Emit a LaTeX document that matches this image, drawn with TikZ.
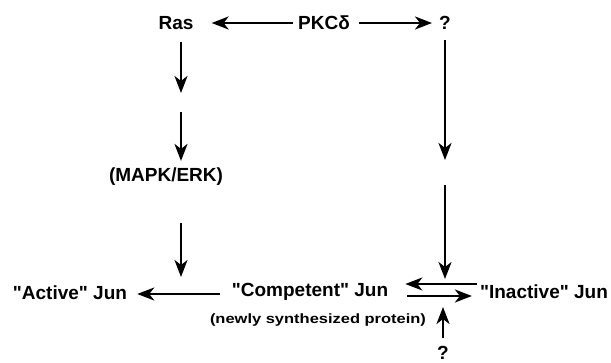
\documentclass[tikz,border=0pt]{standalone}
\usepackage{fontspec}
\setmainfont{Liberation Sans}
\newfontfamily\widefont[FakeStretch=1.22]{Liberation Sans}
\usetikzlibrary{arrows.meta}
\begin{document}
\begin{tikzpicture}[x=1pt,y=-1pt,
  lbl/.style={font=\fontsize{19}{22}\selectfont\bfseries, inner sep=0pt, anchor=center},
  arr/.style={line width=2.3pt, -{Stealth[length=17pt,width=13pt,inset=5pt]}}]
\useasboundingbox (0,0) rectangle (611,363);
% nodes
\node[lbl] (ras) at (176,23) {Ras};
\node[lbl] (pkc) at (324,23) {PKCδ};
\node[lbl] (q1) at (445,23) {?};
\node[lbl] (mapk) at (166,177) {(MAPK/ERK)};
\node[lbl] (act) at (70,293) {\textquotedbl Active\textquotedbl{} Jun};
\node[lbl] (comp) at (310,292) {\textquotedbl Competent\textquotedbl{} Jun};
\node[lbl] (inact) at (544,292) {\textquotedbl Inactive\textquotedbl{} Jun};
\node[font=\widefont\fontsize{13.5}{16}\selectfont\bfseries, inner sep=0pt] (newly) at (318,320) {(newly synthesized protein)};
\node[lbl] (q2) at (443,353) {?};
% free ends
\coordinate (a1) at (181,93);
\coordinate (a2) at (181,112);
\coordinate (a3) at (181,223);
\coordinate (a4) at (181,277);
\coordinate (b1) at (445,160);
\coordinate (b2) at (445,185);
\coordinate (b3) at (445,279);
\coordinate (c1) at (443,307);
% top row
\draw[arr, shorten <=5pt, shorten >=18pt] (pkc.west) -- (ras.east);
\draw[arr, shorten <=9pt, shorten >=7pt] (pkc.east) -- (q1.west);
% left column
\draw[arr, shorten <=12pt] (ras.south -| a1) -- (a1);
\draw[arr, shorten >=7pt] (a2) -- (mapk.north -| a2);
\draw[arr] (a3) -- (a4);
% right column
\draw[arr, shorten <=10pt] (q1.south) -- (b1);
\draw[arr] (b2) -- (b3);
% bottom row
\draw[arr, shorten <=12pt, shorten >=10pt] ([yshift=-2pt]comp.west) -- ([yshift=-1pt]act.east);
\draw[arr, shorten <=3pt, shorten >=17pt] ([yshift=8pt]inact.west) -- ([yshift=8pt]comp.east);
\draw[arr, shorten <=19pt, shorten >=8pt] ([yshift=-4pt]comp.east) -- ([yshift=-4pt]inact.west);
\draw[arr, shorten <=8pt] (q2.north) -- (c1);
\end{tikzpicture}
\end{document}
